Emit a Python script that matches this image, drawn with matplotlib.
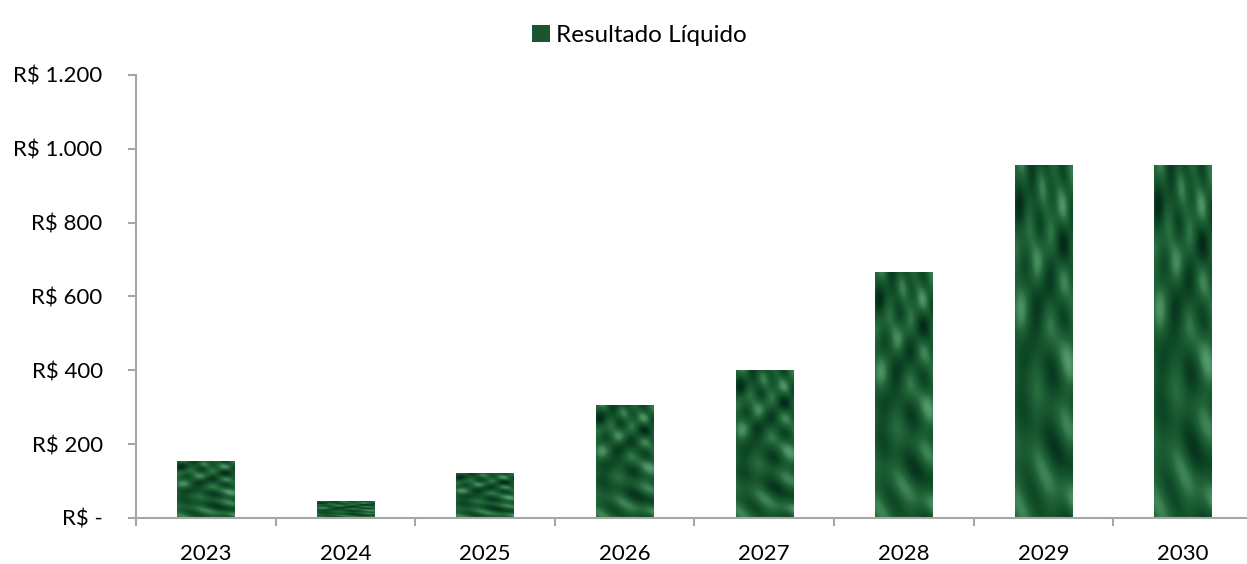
import matplotlib
matplotlib.use('Agg')
import matplotlib.pyplot as plt
from matplotlib.colors import LinearSegmentedColormap
import numpy as np

# data
years = ['2023', '2024', '2025', '2026', '2027', '2028', '2029', '2030']
resultado = [155, 45, 122, 306, 402, 667, 955, 955]
yticks = [0, 200, 400, 600, 800, 1000, 1200]
ytick_labels = ['R$ -', 'R$ 200', 'R$ 400', 'R$ 600', 'R$ 800', 'R$ 1.000', 'R$ 1.200']

plt.rcParams['font.family'] = ['Lato', 'DejaVu Sans']

fig = plt.figure(figsize=(12.47, 5.64), dpi=100)
ax = fig.add_axes([0.1091, 0.0816, 0.8955, 0.7855])

x = np.arange(len(years))
gray = '#a6a6a6'
bars = ax.bar(x, resultado, width=0.41, color='#1a5530', label='Resultado Líquido')

# marble-like green fill, stretched over each bar (just a decorative pattern)
marble = LinearSegmentedColormap.from_list('marble', ['#04291a', '#0f4a27', '#22663a', '#559a6c'])
gx, gy = np.meshgrid(np.linspace(0, 1, 60), np.linspace(0, 1, 200))
tex = (np.sin(9 * gx + 6 * np.sin(4 * gy)) * np.cos(7 * gy - 3 * gx)
       + 0.5 * np.sin(23 * gx * gy + 11 * gy) + 0.35 * np.cos(31 * gy + 5 * gx))
for b in bars:
    x0, y0 = b.get_x(), b.get_y()
    im = ax.imshow(tex, cmap=marble, origin='lower', aspect='auto', interpolation='bilinear',
                   extent=[x0, x0 + b.get_width(), y0, y0 + b.get_height()], zorder=2)
    im.set_clip_path(b)

ax.set_xlim(-0.5, len(years) - 0.5)
ax.set_ylim(0, 1200)
ax.set_yticks(yticks)
ax.set_yticklabels(ytick_labels, fontsize=16)
ax.set_xticks(x)
ax.set_xticklabels(years, fontsize=16)
ax.set_xticks(np.arange(len(years) + 1) - 0.5, minor=True)
ax.tick_params(axis='x', which='major', length=0, pad=19)
ax.tick_params(axis='x', which='minor', length=6, width=1.5, color=gray)
ax.tick_params(axis='y', length=6, width=1.5, color=gray, pad=18)

for s in ['top', 'right']:
    ax.spines[s].set_visible(False)
for s in ['left', 'bottom']:
    ax.spines[s].set_color(gray)
    ax.spines[s].set_linewidth(1.5)
    ax.spines[s].set_zorder(3)

fig.legend(loc='upper center', bbox_to_anchor=(0.513, 0.995), frameon=False,
           fontsize=17.5, handlelength=0.75, handleheight=0.75, handletextpad=0.25)

plt.savefig('out.png', dpi=100)
